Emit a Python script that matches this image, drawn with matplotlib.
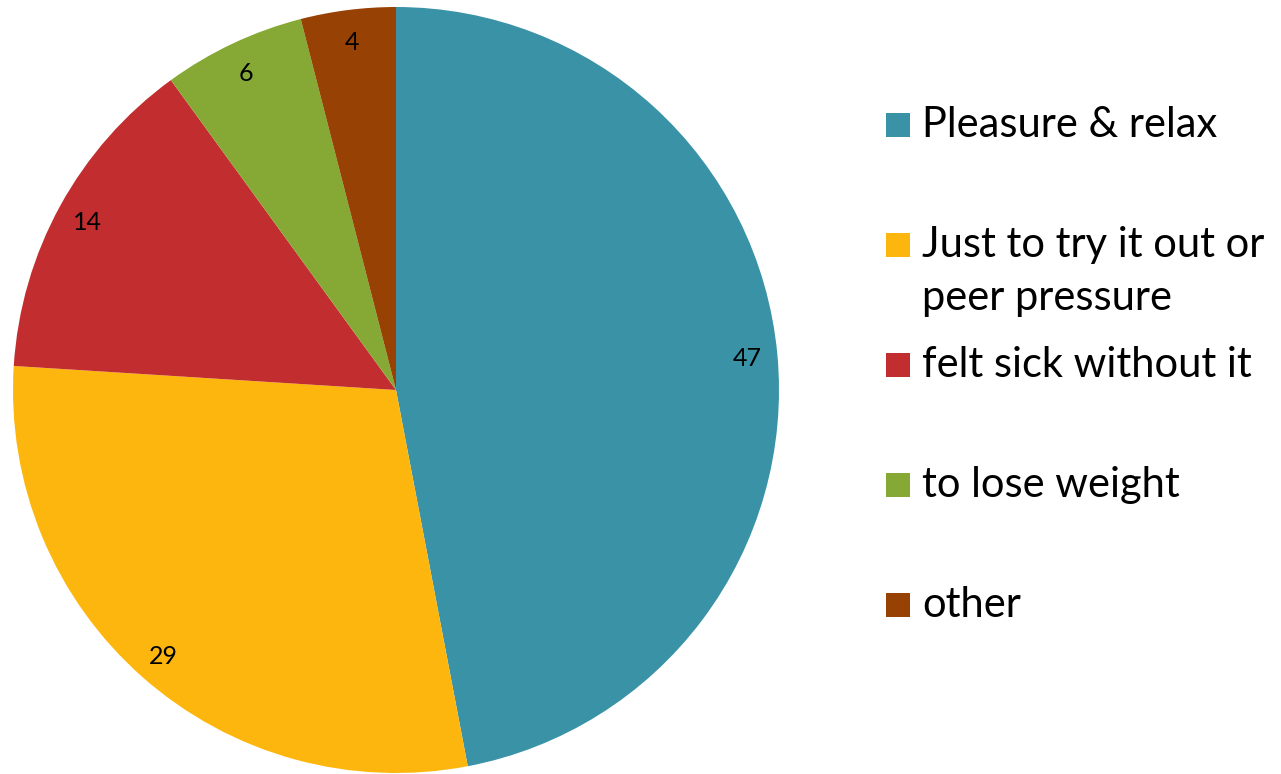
import matplotlib
matplotlib.use("Agg")
import matplotlib.pyplot as plt
from matplotlib.patches import Rectangle

# Reasons given for drug use (percent of respondents)
labels = ["Pleasure & relax", "Just to try it out or\npeer pressure",
          "felt sick without it", "to lose weight", "other"]
values = [47, 29, 14, 6, 4]
colors = ["#3A92A7", "#FDB60D", "#C22E30", "#86A935", "#974104"]

plt.rcParams["font.family"] = ["Lato", "DejaVu Sans"]

W, H = 1281, 774
fig = plt.figure(figsize=(W / 100, H / 100), dpi=100)

# Pie axes: centre (396, 390) px, radius 383 px
cx, cy, r = 396, 390, 383
ax = fig.add_axes([(cx - r) / W, (H - cy - r) / H, 2 * r / W, 2 * r / H])
wedges, texts = ax.pie(values, colors=colors, startangle=90, counterclock=False,
                       labels=[str(v) for v in values], labeldistance=0.92,
                       wedgeprops=dict(linewidth=0),
                       textprops=dict(fontsize=18, color="black"))
for t in texts:
    t.set_ha("center")
    t.set_va("center_baseline")
ax.set_xlim(-1, 1)
ax.set_ylim(-1, 1)
ax.set_aspect("equal")
ax.axis("off")

# Legend on the right, one swatch per category
entry_y = [125, 245, 365, 485, 605]
line_gap = 53
sq = 24
for lab, col, y in zip(labels, colors, entry_y):
    fig.patches.append(Rectangle((886 / W, (H - y - sq / 2) / H), sq / W, sq / H,
                                 transform=fig.transFigure, facecolor=col,
                                 edgecolor="none"))
    for i, line in enumerate(lab.split("\n")):
        fig.text(922 / W, (H - y - sq / 2 - i * line_gap) / H, line, fontsize=30,
                 ha="left", va="baseline", color="black")

fig.savefig("out.png", dpi=100)
